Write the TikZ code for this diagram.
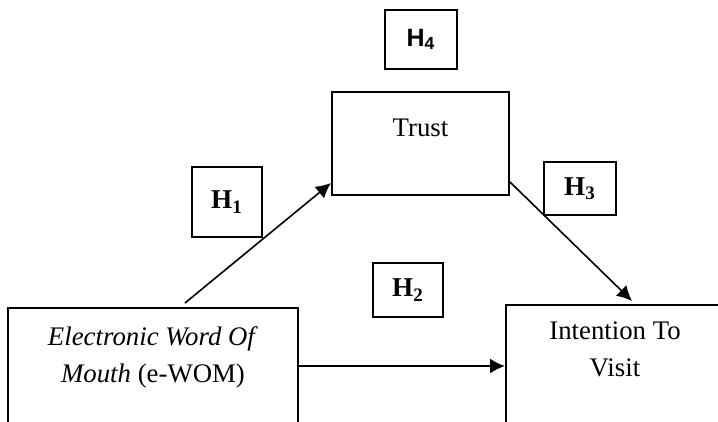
\documentclass[tikz,border=0pt]{standalone}
\usepackage{fontspec}
\setmainfont{Liberation Serif}
\setsansfont{Liberation Sans}
\usetikzlibrary{arrows.meta,positioning}

\begin{document}
\begin{tikzpicture}[x=0.5pt, y=-0.5pt,
    >={Latex[length=7.5pt,width=7.5pt]},
    font=\fontsize{13.4}{18.5}\selectfont,
    box/.style = {
      draw,
      line width = 1pt,
      rectangle,
      inner sep = 0pt
    },
    hyp/.style = {
      box,
      line width = 1.2pt,
      font = \fontsize{13.6}{16}\selectfont\bfseries
    },
    link/.style = {
      ->,
      line width = 0.8pt
    }
  ]
  \useasboundingbox (0,0) rectangle (718,422);
  \clip (0,0) rectangle (718,422);

  % variables
  \node[box, minimum width=88.5pt, minimum height=51.5pt] (trust) at (420.5,143.5) {};
  \node[box, minimum width=145pt, minimum height=71pt] (ewom) at (153,379) {};
  \node[box, minimum width=109pt, minimum height=74pt] (intent) at (615,379) {};

  \node[inner sep=0pt, below=14pt of trust.north] (trusttext) {Trust};
  \node[inner sep=0pt, align=center, below=9.5pt of ewom.north] (ewomtext)
    {\textit{Electronic Word Of}\\\textit{Mouth} (e-WOM)};
  \node[inner sep=0pt, align=center, below=8.5pt of intent.north] (intenttext)
    {Intention To\\Visit};

  % hypotheses
  \node[hyp, minimum width=35pt, minimum height=35pt] (hone) at (227,202) {H\textsubscript{1}};
  \node[hyp, minimum width=35pt, minimum height=27pt] (htwo) at (408,290) {H\textsubscript{2}};
  \node[hyp, minimum width=36pt, minimum height=26.5pt] (hthree) at (580,188.5) {H\textsubscript{3}};
  \node[hyp, minimum width=36pt, minimum height=29.5pt, font=\fontsize{12.5}{15}\selectfont\sffamily\bfseries] (hfour) at (421,39.5) {H\textsubscript{4}};

  % paths
  \draw[link] ([xshift=16pt, yshift=2pt]ewom.north) -- ([yshift=6.5pt]trust.south west);
  \draw[link] ([yshift=7pt]trust.south east) -- ([xshift=8.5pt, yshift=1.5pt]intent.north);
  \draw[link] ([yshift=6.5pt]ewom.east) -- ([yshift=6.5pt]intent.west);
\end{tikzpicture}
\end{document}
